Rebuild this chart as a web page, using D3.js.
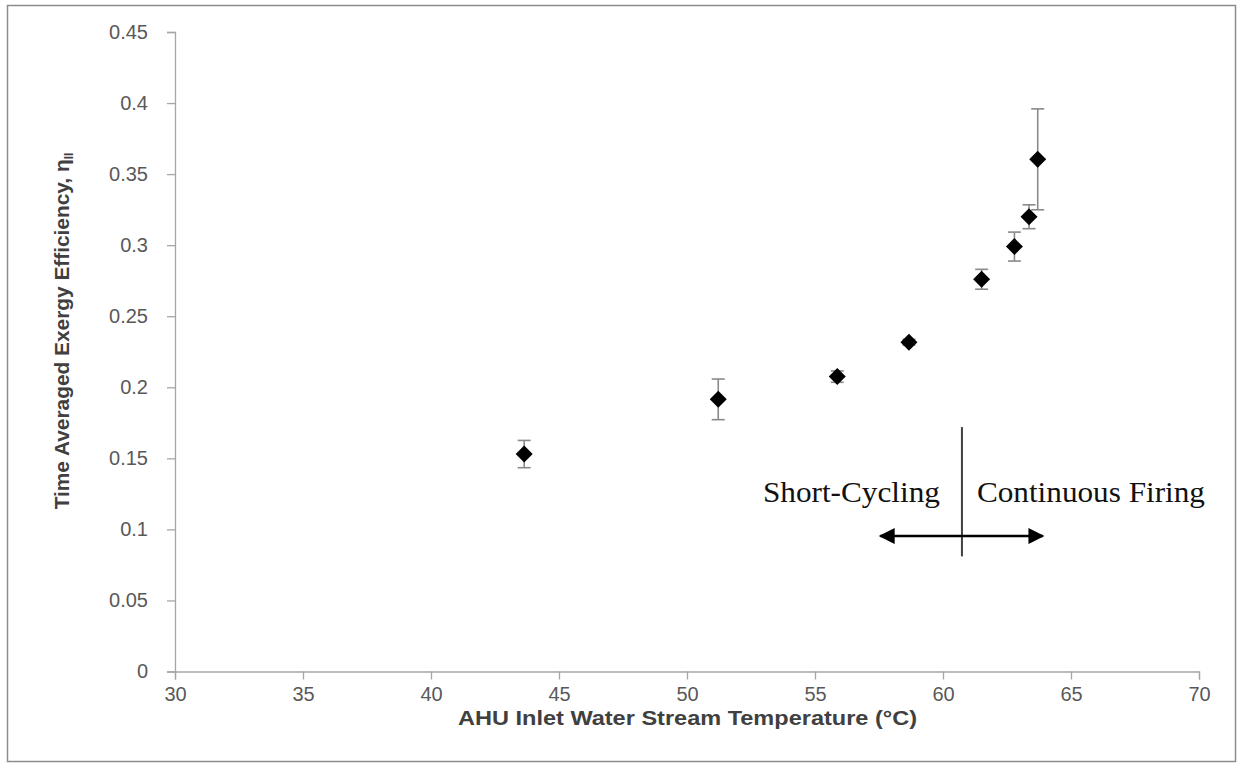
<!DOCTYPE html>
<html>
<head>
<meta charset="utf-8">
<script src="https://cdn.jsdelivr.net/npm/d3@7"></script>
<style>
  html, body { margin: 0; padding: 0; background: #fff; }
  svg { display: block; }
</style>
</head>
<body>
<svg id="chart" width="1239" height="765"></svg>
<script>
// ---- data ----
const temperature = [43.64, 51.22, 55.87, 58.67, 61.51, 62.79, 63.36, 63.70];
const efficiency  = [0.153, 0.1915, 0.2075, 0.2317, 0.276, 0.299, 0.320, 0.3604];
const errorBar    = [0.0096, 0.0143, 0.004, 0.002, 0.007, 0.0102, 0.0084, 0.0355];
const xTicks = [30, 35, 40, 45, 50, 55, 60, 65, 70];
const yTicks = [0, 0.05, 0.1, 0.15, 0.2, 0.25, 0.3, 0.35, 0.4, 0.45];
const regionLabels = ["Short-Cycling", "Continuous Firing"];
const boundaryTemp = 60.74;

const svg = d3.select("#chart");

// outer frame
svg.append("rect").attr("x", 7.5).attr("y", 5.5).attr("width", 1228).attr("height", 756)
  .attr("fill", "#fff").attr("stroke", "#8c8c8c").attr("stroke-width", 1.5);

const x = d3.scaleLinear().domain([30, 70]).range([175, 1199]);
const y = d3.scaleLinear().domain([0, 0.45]).range([671.5, 32]);

const axisColor = "#a6a6a6";
const labelColor = "#595959";
const sans = "Liberation Sans, Arial, sans-serif";

// x axis
const gx = svg.append("g").attr("transform", `translate(0,${y(0)})`)
  .call(d3.axisBottom(x).tickValues(xTicks).tickSize(8).tickPadding(7).tickFormat(d3.format("d")));
// y axis
const gy = svg.append("g").attr("transform", `translate(${x(30)},0)`)
  .call(d3.axisLeft(y).tickValues(yTicks).tickSize(8).tickPadding(19).tickFormat(d => d === 0 ? "0" : String(+d.toFixed(2))));

[gx, gy].forEach(g => {
  g.select(".domain").attr("stroke", axisColor).attr("stroke-width", 1.3);
  g.selectAll(".tick line").attr("stroke", axisColor).attr("stroke-width", 1.3);
  g.selectAll(".tick text").attr("fill", labelColor).style("font-family", sans).style("font-size", "20px");
});

// axis titles
svg.append("text")
  .attr("x", 687.5).attr("y", 725)
  .attr("text-anchor", "middle")
  .attr("fill", "#404040")
  .attr("textLength", 459).attr("lengthAdjust", "spacingAndGlyphs")
  .style("font-family", sans).style("font-weight", "bold").style("font-size", "20px")
  .text("AHU Inlet Water Stream Temperature (°C)");

const yt = svg.append("text")
  .attr("transform", `translate(69,${331}) rotate(-90)`)
  .attr("text-anchor", "middle")
  .attr("fill", "#404040")
  .style("font-family", sans).style("font-weight", "bold").style("font-size", "20px");
yt.append("tspan").attr("textLength", 350).attr("lengthAdjust", "spacingAndGlyphs").text("Time Averaged Exergy Efficiency, η");
yt.append("tspan").attr("dy", 4).style("font-size", "12px").text("II");

// data
const pts = temperature.map((t, i) => ({ t, e: efficiency[i], err: errorBar[i] }));

// error bars
const eb = svg.append("g").attr("stroke", "#8a8a8a").attr("stroke-width", 1.6);
pts.forEach(p => {
  eb.append("line").attr("x1", x(p.t)).attr("x2", x(p.t)).attr("y1", y(p.e + p.err)).attr("y2", y(p.e - p.err));
  [p.e + p.err, p.e - p.err].forEach(v => {
    eb.append("line").attr("x1", x(p.t) - 6.5).attr("x2", x(p.t) + 6.5).attr("y1", y(v)).attr("y2", y(v));
  });
});

// diamond markers
const r = 8.5;
svg.append("g").selectAll("path").data(pts).join("path")
  .attr("d", d => `M${x(d.t)},${y(d.e) - r}L${x(d.t) + r},${y(d.e)}L${x(d.t)},${y(d.e) + r}L${x(d.t) - r},${y(d.e)}Z`)
  .attr("fill", "#000");

// annotation
const defs = svg.append("defs");
defs.append("marker").attr("id", "arr").attr("viewBox", "0 0 10 10").attr("refX", 9).attr("refY", 5)
  .attr("markerWidth", 19).attr("markerHeight", 16).attr("markerUnits", "userSpaceOnUse").attr("orient", "auto-start-reverse")
  .append("path").attr("d", "M0,0L10,5L0,10Z").attr("fill", "#000");

const bx = x(boundaryTemp);
svg.append("line").attr("x1", bx).attr("x2", bx).attr("y1", y(0.172)).attr("y2", y(0.081))
  .attr("stroke", "#404040").attr("stroke-width", 2);
svg.append("line").attr("x1", x(57.55)).attr("x2", x(63.9)).attr("y1", y(0.0953)).attr("y2", y(0.0953))
  .attr("stroke", "#000").attr("stroke-width", 2.4)
  .attr("marker-start", "url(#arr)").attr("marker-end", "url(#arr)");

const serif = "Liberation Serif, DejaVu Serif, serif";
svg.append("text").attr("x", bx - 199).attr("y", y(0.1196)).attr("text-anchor", "start")
  .attr("textLength", 177).attr("lengthAdjust", "spacingAndGlyphs")
  .attr("fill", "#111").style("font-family", serif).style("font-size", "29px").text(regionLabels[0]);
svg.append("text").attr("x", bx + 15).attr("y", y(0.1196)).attr("text-anchor", "start")
  .attr("textLength", 228).attr("lengthAdjust", "spacingAndGlyphs")
  .attr("fill", "#111").style("font-family", serif).style("font-size", "29px").text(regionLabels[1]);
</script>
</body>
</html>
